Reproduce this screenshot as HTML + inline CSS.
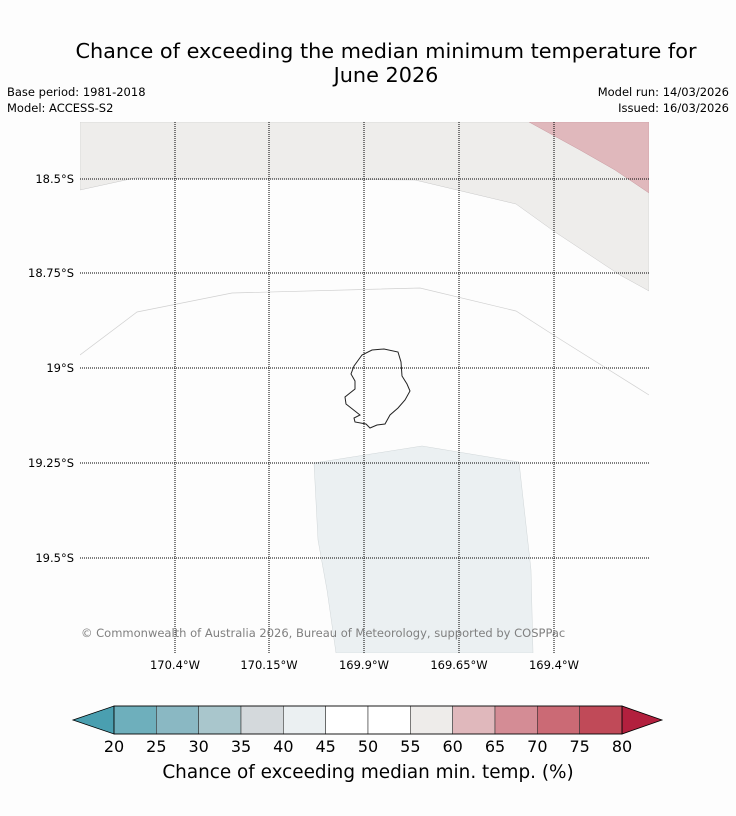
<!DOCTYPE html>
<html><head><meta charset="utf-8"><style>
body{margin:0;background:#fdfdfd;}
svg{display:block;font-family:"DejaVu Sans","Liberation Sans",sans-serif;}
</style></head><body>
<svg width="736" height="816" viewBox="0 0 736 816">
<rect width="736" height="816" fill="#fdfdfd"/>
<text x="386" y="58" font-size="20.8" text-anchor="middle">Chance of exceeding the median minimum temperature for</text>
<text x="386" y="82" font-size="20.8" text-anchor="middle">June 2026</text>
<text x="7" y="96" font-size="11.5">Base period: 1981-2018</text>
<text x="7" y="112" font-size="11.5">Model: ACCESS-S2</text>
<text x="729" y="96" font-size="11.5" text-anchor="end">Model run: 14/03/2026</text>
<text x="729" y="112" font-size="11.5" text-anchor="end">Issued: 16/03/2026</text>
<g>
<clipPath id="mc"><rect x="80" y="122" width="569" height="531"/></clipPath>
<g clip-path="url(#mc)">
<rect x="80" y="122" width="569" height="531" fill="#fdfdfd"/>
<polygon fill="#eeedeb" stroke="#c8c8c8" stroke-width="0.5" points="80,122 649,122 649,291 620,275 555,232 516,204 415,180 135,178 80,190"/>
<polygon fill="#e0b8bc" stroke="#c89aa0" stroke-width="0.5" points="529,122 649,122 649,193 615,170 580,150"/>
<polyline fill="none" stroke="#d0d0d0" stroke-width="0.7" points="80,355 137,312 232,293 420,288 516,311 555,336 649,395"/>
<polygon fill="#ebf0f2" stroke="#d0d6d8" stroke-width="0.5" points="314,463 422,446 519,462 531,570 533,653 336,653 327,590 318,540"/>
</g>
<g stroke="#000" stroke-width="1" stroke-dasharray="1,1">
<line x1="175" y1="122" x2="175" y2="653"/><line x1="269" y1="122" x2="269" y2="653"/><line x1="364" y1="122" x2="364" y2="653"/><line x1="459" y1="122" x2="459" y2="653"/><line x1="554" y1="122" x2="554" y2="653"/>
<line x1="80" y1="179" x2="649" y2="179"/><line x1="80" y1="273" x2="649" y2="273"/><line x1="80" y1="368" x2="649" y2="368"/><line x1="80" y1="463" x2="649" y2="463"/><line x1="80" y1="558" x2="649" y2="558"/>
</g>
<path fill="none" stroke="#222" stroke-width="1" d="M354,366 L362,355 L372,350 L384,349 L398,352 L401,362 L402,376 L407,384 L410,391 L405,400 L398,408 L390,415 L385,424 L377,425 L370,428 L366,424 L355,422 L354,418 L360,415 L346,404 L345,397 L355,389 L355,381 L351,374 Z"/>
<g font-size="11.5">
<text x="74" y="183" text-anchor="end">18.5°S</text><text x="74" y="277" text-anchor="end">18.75°S</text><text x="74" y="372" text-anchor="end">19°S</text><text x="74" y="467" text-anchor="end">19.25°S</text><text x="74" y="562" text-anchor="end">19.5°S</text>
</g>
<g font-size="11.5" text-anchor="middle">
<text x="175" y="669">170.4°W</text><text x="269" y="669">170.15°W</text><text x="364" y="669">169.9°W</text><text x="459" y="669">169.65°W</text><text x="554" y="669">169.4°W</text>
</g>
<text x="81" y="637" font-size="11.5" fill="#808080">© Commonwealth of Australia 2026, Bureau of Meteorology, supported by COSPPac</text>
</g>
<g id="cbar"></g>
<text x="368" y="778" font-size="18.4" text-anchor="middle">Chance of exceeding median min. temp. (%)</text>
<script>
const cbTicks=[20,25,30,35,40,45,50,55,60,65,70,75,80];
const cbColors=["#6eafbc","#8ab8c3","#a9c6cc","#d4d9dc","#ebf0f2","#ffffff","#ffffff","#eeecea","#e0b8bc","#d48c95","#cb6a75","#c04a58"];
const cbUnder="#4a9fb0", cbOver="#b2203e";
const NS="http://www.w3.org/2000/svg";
const g=document.getElementById('cbar');
const x0=114,x1=622,y0=706,y1=734;
const sx=v=>x0+(v-cbTicks[0])/(cbTicks[cbTicks.length-1]-cbTicks[0])*(x1-x0);
function mk(t,a){const e=document.createElementNS(NS,t);for(const k in a)e.setAttribute(k,a[k]);g.appendChild(e);return e;}
const lt=mk('polygon',{points:`${x0},${y0} ${x0},${y1} 73,${(y0+y1)/2}`,fill:cbUnder,stroke:'#000','stroke-width':0.8});


const rt=mk('polygon',{points:`${x1},${y0} ${x1},${y1} 662,${(y0+y1)/2}`,fill:cbOver,stroke:'#000','stroke-width':0.8});


cbColors.forEach((c,i)=>{
 const a=sx(cbTicks[i]),b=sx(cbTicks[i+1]);
 const r=mk('rect',{x:a,y:y0,width:b-a,height:y1-y0,fill:c,stroke:'#333','stroke-width':0.6});
 
 
});
mk('rect',{x:x0,y:y0,width:x1-x0,height:y1-y0,fill:'none',stroke:'#000','stroke-width':0.8});
cbTicks.forEach(v=>{
 const t=mk('text',{x:sx(v),y:752,'font-size':16,'text-anchor':'middle'});
 t.textContent=v;
 
 
});
</script>
</svg>
</body></html>
